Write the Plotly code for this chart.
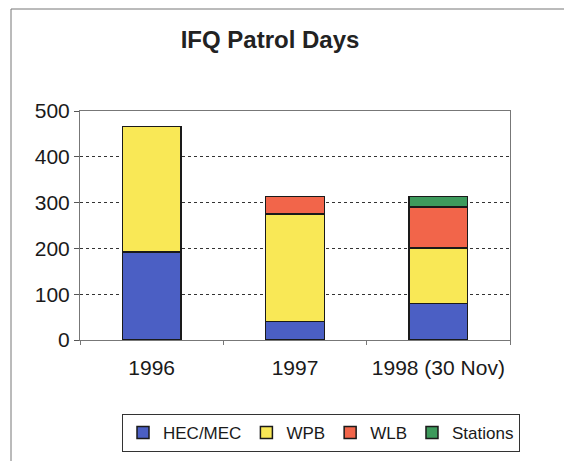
import plotly.graph_objects as go

categories = ["1996", "1997", "1998 (30 Nov)"]
hec_mec = [192, 40, 80]
wpb = [274, 235, 121]
wlb = [0, 38, 89]
stations = [0, 0, 23]
series_names = ["HEC/MEC", "WPB", "WLB", "Stations"]
colors = ["#4b5fc4", "#f9e856", "#f2654a", "#3d9a5c"]
y_ticks = [0, 100, 200, 300, 400, 500]

FONT = "Liberation Sans, Arial, sans-serif"
OFF = 8  # page body margin

fig = go.Figure()
for name, vals, col in zip(series_names, [hec_mec, wpb, wlb, stations], colors):
    fig.add_trace(go.Bar(
        x=categories, y=vals, name=name,
        marker=dict(color=col, line=dict(color="#1a1a1a", width=1.5)),
    ))

fig.update_layout(
    width=572, height=461,
    barmode="stack", bargap=0.59,
    paper_bgcolor="white", plot_bgcolor="white",
    margin=dict(l=80 - OFF, r=572 - (510 - OFF), t=111 - OFF, b=461 - (340 - OFF),
                autoexpand=False),
    font=dict(family=FONT, color="#1a1a1a", size=18),
    title=dict(text="<b>IFQ Patrol Days</b>", x=(270 - OFF)/572, xanchor="center",
               y=1 - (40 - OFF)/461, yanchor="middle",
               font=dict(family=FONT, size=24, color="#222")),
    legend=dict(orientation="h", x=(321 - OFF)/572, xanchor="center", xref="container",
                y=1 - (414 - OFF)/461, yanchor="top", yref="container",
                traceorder="normal",
                bordercolor="#333", borderwidth=1, font=dict(size=17),
                itemwidth=30, tracegroupgap=0),
    showlegend=True,
)
fig.update_xaxes(showline=True, linecolor="#777", linewidth=1, mirror=True,
                 ticks="outside", tickson="boundaries", ticklen=4, tickcolor="#777",
                 tickfont=dict(size=21), showgrid=False, automargin=False,
                 ticklabelstandoff=9)
fig.update_yaxes(range=[0, 500], tickvals=y_ticks, showline=True, linecolor="#777",
                 linewidth=1, mirror=True, ticks="outside", ticklen=5, tickcolor="#555",
                 showgrid=True, gridcolor="#333", griddash="3px,3px", gridwidth=1,
                 tickfont=dict(size=21), zeroline=False, automargin=False)

fig.add_shape(type="rect", xref="paper", yref="paper",
              x0=(11 - 80)/430, x1=(570 - 80)/430, y0=-0.7, y1=(340 - 9)/229,
              line=dict(color="#777", width=1), layer="below")

fig.write_html("out.html")
